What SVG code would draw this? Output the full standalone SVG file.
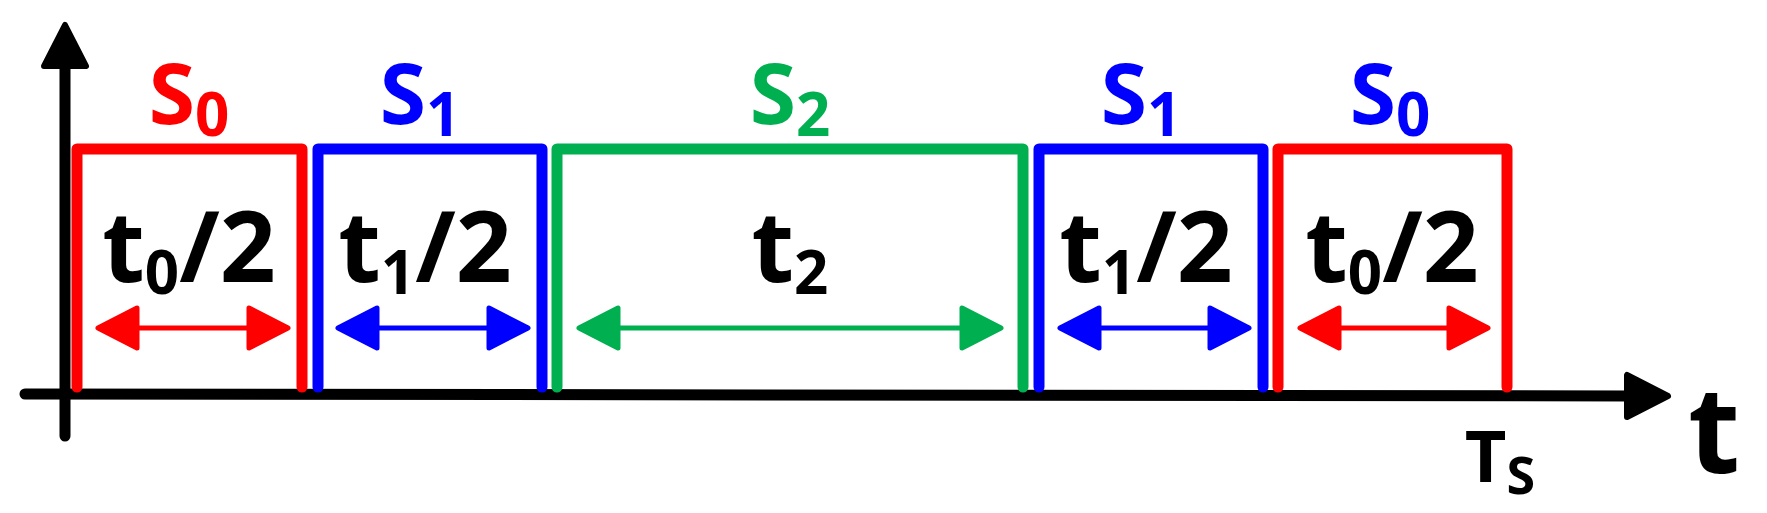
<svg xmlns="http://www.w3.org/2000/svg" width="1767" height="513" viewBox="0 0 1767 513">
<style>
.box{fill:none;stroke-width:11;stroke-linejoin:round;stroke-linecap:round}
.ax{stroke:#000;stroke-width:11;stroke-linecap:round;fill:none}
.lbl{font-family:"Open Sans","Noto Sans",sans-serif;font-weight:bold;font-size:84px;text-anchor:middle}
.dur{font-family:"Open Sans","Noto Sans",sans-serif;font-weight:bold;font-size:98px;text-anchor:middle;fill:#000}
.sub{font-size:60px}
.r{stroke:#f00;fill:#f00}.b{stroke:#00f;fill:#00f}.g{stroke:#00b050;fill:#00b050}
</style>
<rect width="1767" height="513" fill="#fff"/>
<g id="axes">
<line class="ax" x1="65" y1="60" x2="65" y2="436"/>
<polygon points="65,25 86,66 44,66" fill="#000" stroke="#000" stroke-width="6" stroke-linejoin="round"/>
<line class="ax" x1="25" y1="394" x2="1630" y2="396"/>
<polygon points="1668,396 1627,375 1627,417" fill="#000" stroke="#000" stroke-width="6" stroke-linejoin="round"/>
<text x="1714" y="473" class="dur" font-size="120" style="font-size:120px">t</text>
<text x="1500" y="482" class="dur" style="font-size:72px">T<tspan class="sub" style="font-size:52px" dy="12">S</tspan></text>
</g>
<g id="connectors">
<g stroke-width="5">
<line class="r" x1="130" y1="328" x2="250" y2="328"/>
<polygon class="r" stroke-linejoin="round" points="98,328 137,308 137,348"/><polygon class="r" stroke-linejoin="round" points="288,328 249,308 249,348"/>
<line class="b" x1="370" y1="328" x2="495" y2="328"/>
<polygon class="b" stroke-linejoin="round" points="338,328 377,308 377,348"/><polygon class="b" stroke-linejoin="round" points="528,328 489,308 489,348"/>
<line class="g" x1="610" y1="328" x2="970" y2="328"/>
<polygon class="g" stroke-linejoin="round" points="579,328 618,308 618,348"/><polygon class="g" stroke-linejoin="round" points="1001,328 962,308 962,348"/>
<line class="b" x1="1092" y1="328" x2="1215" y2="328"/>
<polygon class="b" stroke-linejoin="round" points="1060,328 1099,308 1099,348"/><polygon class="b" stroke-linejoin="round" points="1249,328 1210,308 1210,348"/>
<line class="r" x1="1333" y1="328" x2="1455" y2="328"/>
<polygon class="r" stroke-linejoin="round" points="1300,328 1339,308 1339,348"/><polygon class="r" stroke-linejoin="round" points="1488,328 1449,308 1449,348"/>
</g>
</g>
<g id="n1"><polyline class="box r" style="fill:none" points="77,387 77,149 302,149 302,387"/>
<text class="lbl" x="189" y="124" fill="#f00">S<tspan class="sub" dy="12">0</tspan></text>
<text class="dur" x="189" y="282">t<tspan class="sub" dy="12">0</tspan><tspan dy="-12">/2</tspan></text></g>
<g id="n2"><polyline class="box b" style="fill:none" points="318,387 318,149 542,149 542,387"/>
<text class="lbl" x="420" y="124" fill="#00f">S<tspan class="sub" dy="12">1</tspan></text>
<text class="dur" x="425" y="282">t<tspan class="sub" dy="12">1</tspan><tspan dy="-12">/2</tspan></text></g>
<g id="n3"><polyline class="box g" style="fill:none" points="557,387 557,149 1023,149 1023,387"/>
<text class="lbl" x="790" y="124" fill="#00b050">S<tspan class="sub" dy="12">2</tspan></text>
<text class="dur" x="790" y="282">t<tspan class="sub" dy="12">2</tspan></text></g>
<g id="n4"><polyline class="box b" style="fill:none" points="1039,387 1039,149 1263,149 1263,387"/>
<text class="lbl" x="1141" y="124" fill="#00f">S<tspan class="sub" dy="12">1</tspan></text>
<text class="dur" x="1146" y="282">t<tspan class="sub" dy="12">1</tspan><tspan dy="-12">/2</tspan></text></g>
<g id="n5"><polyline class="box r" style="fill:none" points="1278,387 1278,149 1507,149 1507,387"/>
<text class="lbl" x="1390" y="124" fill="#00f">S<tspan class="sub" dy="12">0</tspan></text>
<text class="dur" x="1392" y="282">t<tspan class="sub" dy="12">0</tspan><tspan dy="-12">/2</tspan></text></g>
</svg>
